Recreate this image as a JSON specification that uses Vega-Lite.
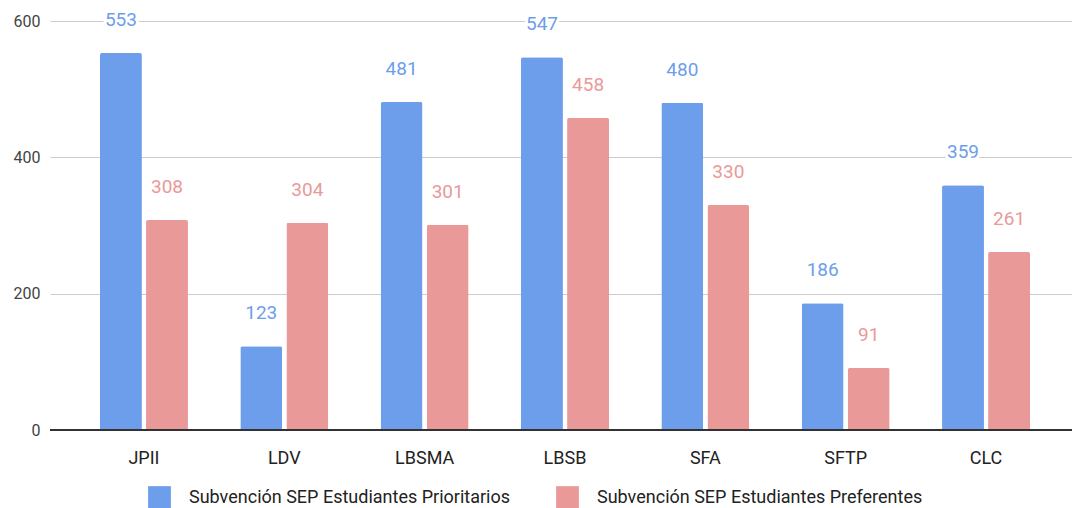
{
  "$schema": "https://vega.github.io/schema/vega-lite/v6.json",
  "autosize": {"type": "none"},
  "padding": {"left": 50, "top": 21, "right": 0, "bottom": 78},
  "width": 1030,
  "height": 409,
  "config": {
    "font": "Roboto",
    "view": {"stroke": null},
    "axis": {"labelFont": "Roboto"},
    "legend": {"labelFont": "Roboto"}
  },
  "data": {
    "values": [
      {"escuela": "JPII", "serie": "Subvención SEP Estudiantes Prioritarios", "valor": 553},
      {"escuela": "JPII", "serie": "Subvención SEP Estudiantes Preferentes", "valor": 308},
      {"escuela": "LDV", "serie": "Subvención SEP Estudiantes Prioritarios", "valor": 123},
      {"escuela": "LDV", "serie": "Subvención SEP Estudiantes Preferentes", "valor": 304},
      {"escuela": "LBSMA", "serie": "Subvención SEP Estudiantes Prioritarios", "valor": 481},
      {"escuela": "LBSMA", "serie": "Subvención SEP Estudiantes Preferentes", "valor": 301},
      {"escuela": "LBSB", "serie": "Subvención SEP Estudiantes Prioritarios", "valor": 547},
      {"escuela": "LBSB", "serie": "Subvención SEP Estudiantes Preferentes", "valor": 458},
      {"escuela": "SFA", "serie": "Subvención SEP Estudiantes Prioritarios", "valor": 480},
      {"escuela": "SFA", "serie": "Subvención SEP Estudiantes Preferentes", "valor": 330},
      {"escuela": "SFTP", "serie": "Subvención SEP Estudiantes Prioritarios", "valor": 186},
      {"escuela": "SFTP", "serie": "Subvención SEP Estudiantes Preferentes", "valor": 91},
      {"escuela": "CLC", "serie": "Subvención SEP Estudiantes Prioritarios", "valor": 359},
      {"escuela": "CLC", "serie": "Subvención SEP Estudiantes Preferentes", "valor": 261}
    ]
  },
  "encoding": {
    "x": {
      "field": "escuela", "type": "nominal", "sort": null,
      "scale": {"paddingInner": 0.373, "paddingOuter": 0.356},
      "axis": {
        "title": null, "labelAngle": 0, "labelFontSize": 18, "labelColor": "#222222",
        "labelPadding": 19, "ticks": false, "domain": false, "grid": false
      }
    },
    "xOffset": {
      "field": "serie", "type": "nominal",
      "sort": ["Subvención SEP Estudiantes Prioritarios", "Subvención SEP Estudiantes Preferentes"],
      "scale": {"paddingInner": 0.09}
    },
    "y": {
      "field": "valor", "type": "quantitative",
      "scale": {"domain": [0, 600], "nice": false},
      "axis": {
        "title": null, "values": [0, 200, 400, 600], "labelFontSize": 16, "labelColor": "#444444",
        "labelPadding": 10, "ticks": false, "domain": false,
        "gridColor": "#cccccc", "gridWidth": 1
      }
    },
    "color": {
      "field": "serie", "type": "nominal",
      "scale": {
        "domain": ["Subvención SEP Estudiantes Prioritarios", "Subvención SEP Estudiantes Preferentes"],
        "range": ["#6d9eeb", "#ea9999"]
      },
      "legend": {
        "title": null, "orient": "none", "direction": "horizontal",
        "legendX": 98, "legendY": 465,
        "symbolType": "square", "symbolSize": 520, "symbolStrokeWidth": 0,
        "labelFontSize": 18, "labelColor": "#222222", "labelOffset": 18,
        "columnPadding": 46, "labelLimit": 450
      }
    }
  },
  "layer": [
    {
      "mark": {"type": "bar", "cornerRadiusTopLeft": 2, "cornerRadiusTopRight": 2}
    },
    {
      "mark": {"type": "rule", "color": "#333333", "strokeWidth": 1},
      "encoding": {"y": {"datum": 0}, "x": {"value": 0}, "x2": {"value": 1030}, "xOffset": null, "color": null}
    },
    {
      "mark": {"type": "text", "fontSize": 19, "dy": -27, "baseline": "alphabetic", "stroke": "white", "strokeWidth": 6, "strokeJoin": "round"},
      "encoding": {"text": {"field": "valor", "type": "quantitative"}, "color": {"value": "white"}}
    },
    {
      "mark": {"type": "text", "fontSize": 19, "dy": -27, "baseline": "alphabetic"},
      "encoding": {
        "text": {"field": "valor", "type": "quantitative"},
        "color": {
          "field": "serie", "type": "nominal",
          "scale": {
            "domain": ["Subvención SEP Estudiantes Prioritarios", "Subvención SEP Estudiantes Preferentes"],
            "range": ["#6d9eeb", "#ea9999"]
          },
          "legend": null
        }
      }
    }
  ]
}
